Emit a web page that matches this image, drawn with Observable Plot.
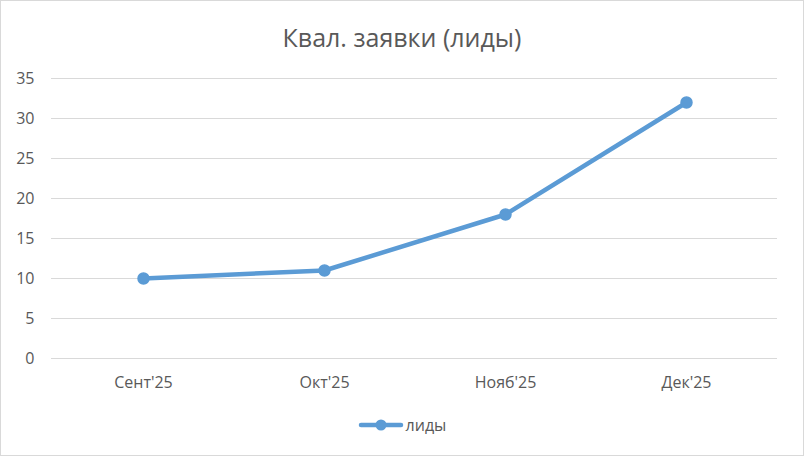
<!DOCTYPE html>
<html><head><meta charset="utf-8">
<script src="https://cdn.jsdelivr.net/npm/d3@7"></script>
<script src="https://cdn.jsdelivr.net/npm/@observablehq/plot@0.6"></script>
<style>
html,body{margin:0;padding:0;background:#fff;}
#wrap{position:relative;width:802px;height:454px;border:1px solid #d9d9d9;overflow:hidden;font-family:"Open Sans","Noto Sans",sans-serif;color:#595959;}
#title{position:absolute;left:0;top:0;width:802px;height:60px;text-align:center;font-size:25px;line-height:72px;color:#595959;}
#chart{position:absolute;left:-2px;top:59px;}
#legend{position:absolute;left:0;top:412px;width:802px;height:24px;display:flex;justify-content:center;align-items:center;font-size:16px;color:#595959;}
#legend svg{margin-right:2px;}
</style></head>
<body>
<div id="wrap">
<div id="title"></div>
<div id="chart"></div>
<div id="legend"></div>
</div>
<script>
const titleText = "Квал. заявки (лиды)";
const seriesName = "лиды";
const months = ["Сент'25", "Окт'25", "Нояб'25", "Дек'25"];
const values = [10, 11, 18, 32];
const yTicks = [0, 5, 10, 15, 20, 25, 30, 35];
const color = "#5b9bd5";

const data = months.map((m, i) => ({month: m, value: values[i]}));

document.getElementById("title").textContent = titleText;

const chart = Plot.plot({
  width: 804,
  height: 340,
  marginLeft: 52,
  marginRight: 26,
  marginTop: 18,
  marginBottom: 42,
  style: {fontFamily: '"Open Sans","Noto Sans",sans-serif', fontSize: "16px", color: "#595959", background: "transparent"},
  x: {type: "point", domain: months, padding: 0.5, label: null},
  y: {domain: [0, 35], ticks: yTicks, label: null},
  marks: [
    Plot.gridY(yTicks, {stroke: "#d9d9d9", strokeOpacity: 1, strokeWidth: 1}),
    Plot.axisY(yTicks, {tickSize: 0, tickPadding: 17, fontSize: 16, fill: "#595959", label: null}),
    Plot.axisX({tickSize: 0, tickPadding: 18, fontSize: 16, fill: "#595959", label: null}),
    Plot.line(data, {x: "month", y: "value", stroke: color, strokeWidth: 4.5, strokeLinecap: "round", strokeLinejoin: "round"}),
    Plot.dot(data, {x: "month", y: "value", r: 5.5, fill: color, stroke: color})
  ]
});
document.getElementById("chart").appendChild(chart);

const lg = document.getElementById("legend");
lg.innerHTML = `<svg width="46" height="14"><line x1="3" y1="7" x2="43" y2="7" stroke="${color}" stroke-width="4.5" stroke-linecap="round"/><circle cx="23" cy="7" r="5.5" fill="${color}"/></svg><span></span>`;
lg.querySelector("span").textContent = seriesName;
</script>
</body></html>
